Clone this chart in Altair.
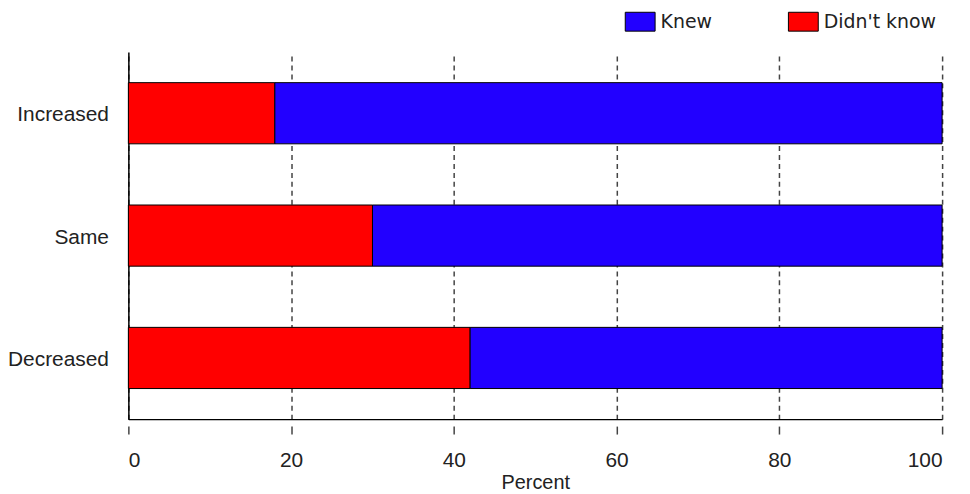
import altair as alt
import pandas as pd

categories = ["Increased", "Same", "Decreased"]
didnt_know = [18, 30, 42]
knew = [82, 70, 58]
responses = ["Knew", "Didn't know"]
colors = ["#2200FF", "#FF0000"]
x_ticks = [0, 20, 40, 60, 80, 100]

rows = []
for c, d, k in zip(categories, didnt_know, knew):
    rows.append({"category": c, "response": "Didn't know", "value": d, "ord": 0})
    rows.append({"category": c, "response": "Knew", "value": k, "ord": 1})
df = pd.DataFrame(rows)

chart = alt.Chart(df).mark_bar(stroke="black", strokeWidth=1, opacity=1).encode(
    y=alt.Y(
        "category:N",
        sort=categories,
        scale=alt.Scale(paddingInner=0.5, paddingOuter=0.25),
        axis=alt.Axis(
            title=None, ticks=False, labelPadding=20, labelFontSize=21,
            labelFont="Liberation Sans", labelColor="#222", domainColor="black",
            domainWidth=1.5, grid=False, labelOffset=2,
        ),
    ),
    x=alt.X(
        "value:Q",
        stack="zero",
        scale=alt.Scale(domain=[0, 100], nice=False),
        axis=alt.Axis(
            values=x_ticks, title="Percent", grid=True, gridDash=[5, 4],
            gridColor="#444", gridWidth=1.5, domainColor="black", domainWidth=1.5,
            tickColor="#444", tickWidth=1.5, tickSize=15, tickDash=[8, 7], tickDashOffset=8,
            labelFont="Liberation Sans", labelFontSize=21, labelColor="#222",
            labelPadding=16, titleFont="Liberation Sans", titleFontSize=20,
            titleFontWeight="normal", titleColor="#222", titlePadding=2,
        ),
    ),
    color=alt.Color(
        "response:N",
        scale=alt.Scale(domain=responses, range=colors),
        legend=alt.Legend(
            title=None, orient="none", legendX=499, legendY=-46,
            direction="horizontal",
            symbolType="M-1,-0.633L1,-0.633L1,0.633L-1,0.633Z",
            symbolSize=900, symbolStrokeColor="black", symbolStrokeWidth=1,
            symbolOpacity=1, labelFont="DejaVu Sans", labelFontSize=19,
            labelColor="#222", labelOffset=5, columnPadding=74, padding=0,
        ),
    ),
    order=alt.Order("ord:Q"),
).properties(
    width=818,
    height=369,
    autosize=alt.AutoSizeParams(type="none"),
    padding={"left": 121, "top": 43, "right": 20, "bottom": 78},
).configure_view(stroke=None)

chart.save("out.html", embed_options={"renderer": "svg", "actions": False})
